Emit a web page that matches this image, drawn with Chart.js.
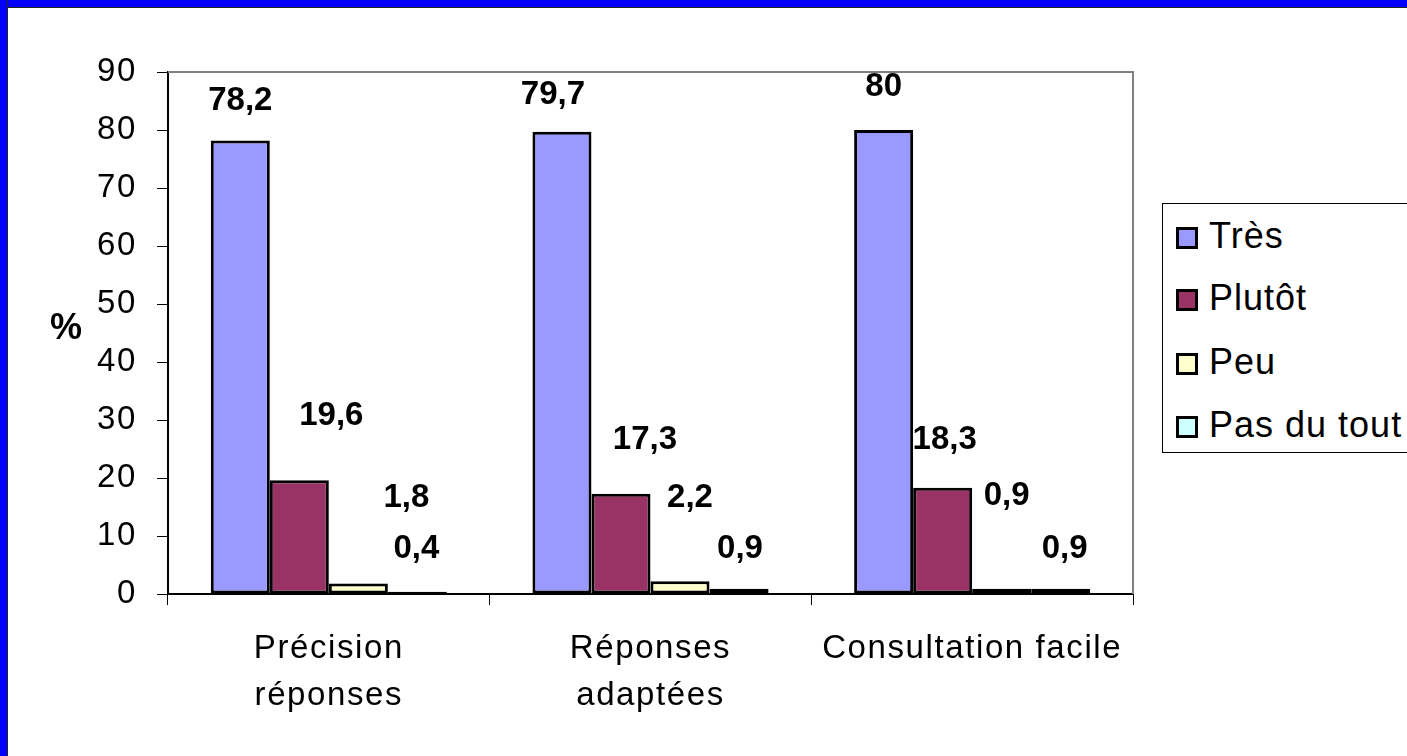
<!DOCTYPE html>
<html>
<head>
<meta charset="utf-8">
<script src="https://cdn.jsdelivr.net/npm/chart.js@4/dist/chart.umd.min.js"></script>
<style>
    html, body { margin: 0; padding: 0; background: #ffffff; overflow: hidden; }
    #frame { position: absolute; left: 0; top: 0; width: 1407px; height: 756px; }
    #topBar { position: absolute; left: 0; top: 0; width: 1407px; height: 7px; background: #0000FF; border-bottom: 1px solid #222; }
    #leftBar { position: absolute; left: 0; top: 0; width: 7px; height: 756px; background: #0000FF; border-right: 1px solid #222; }
    #chartBox { position: absolute; left: 0; top: 0; width: 1407px; height: 756px; }
    #legend {
        position: absolute; left: 1162px; top: 203px; width: 270px; height: 250px;
        border: 1px solid #000; background: #fff; box-sizing: border-box;
        font-family: 'Liberation Sans', Arial, sans-serif; font-size: 36px; letter-spacing: 1px; color: #000;
    }
    .item { position: absolute; left: 13px; height: 40px; line-height: 40px; white-space: nowrap; }
    .swatch { display: inline-block; box-sizing: border-box; width: 22px; height: 22px; border: 3px solid #000; margin-right: 11px; vertical-align: -1px; }
    #pct { position: absolute; left: 50px; top: 306px; font: bold 36px 'Liberation Sans', Arial, sans-serif; }
</style>
</head>
<body>
<div id="frame">
    <div id="chartBox"><canvas id="surveyChart" width="1407" height="756"></canvas></div>
    <div id="pct">%</div>
    <div id="legend"></div>
    <div id="topBar"></div>
    <div id="leftBar"></div>
</div>
<script>
const categories = [['Précision', 'réponses'], ['Réponses', 'adaptées'], 'Consultation facile'];
const seriesNames = ['Très', 'Plutôt', 'Peu', 'Pas du tout'];
const tresValues = [78.2, 79.7, 80];
const plutotValues = [19.6, 17.3, 18.3];
const peuValues = [1.8, 2.2, 0.9];
const pasDuToutValues = [0.4, 0.9, 0.9];
const yTicks = [0, 10, 20, 30, 40, 50, 60, 70, 80, 90];

const seriesColors = ['#9999FF', '#993366', '#FFFFCC', '#CCFFFF'];
// where Excel put each value label, relative to the bar top (layout only)
const labelNudge = [
    [[0, -40], [-9, -37], [0, -43]],
    [[32, -64], [24, -54], [2, -48]],
    [[48, -86], [10, -83], [5, -93]],
    [[-1, -43], [1, -40], [4, -40]]
];

const FONT = "'Liberation Sans', Arial, sans-serif";

// Excel spreads the axis text a bit wider than the canvas does
const spacing = {
    id: 'spacing',
    beforeDraw(chart) { chart.ctx.letterSpacing = '1.6px'; }
};

const valueLabels = {
    id: 'valueLabels',
    afterDatasetsDraw(chart) {
        const ctx = chart.ctx;
        ctx.save();
        ctx.letterSpacing = '0px';
        ctx.font = 'bold 33px ' + FONT;
        ctx.fillStyle = '#000';
        ctx.textAlign = 'center';
        ctx.textBaseline = 'middle';
        chart.data.datasets.forEach((ds, i) => {
            chart.getDatasetMeta(i).data.forEach((bar, j) => {
                const n = labelNudge[i][j];
                const txt = String(ds.data[j]).replace('.', ',');
                ctx.fillText(txt, bar.x + n[0], bar.y + n[1]);
            });
        });
        ctx.restore();
    }
};

const plotFrame = {
    id: 'plotFrame',
    beforeDatasetsDraw(chart) {
        const a = chart.chartArea;
        const ctx = chart.ctx;
        ctx.save();
        ctx.strokeStyle = '#808080';
        ctx.lineWidth = 2;
        ctx.beginPath();
        ctx.moveTo(a.left, a.top);
        ctx.lineTo(a.right, a.top);
        ctx.lineTo(a.right, a.bottom);
        ctx.stroke();
        ctx.restore();
    }
};

const allValues = [tresValues, plutotValues, peuValues, pasDuToutValues];

new Chart(document.getElementById('surveyChart'), {
    type: 'bar',
    data: {
        labels: categories,
        datasets: seriesNames.map((name, i) => ({
            label: name,
            data: allValues[i],
            backgroundColor: seriesColors[i],
            borderColor: '#000',
            borderWidth: 3,
            borderSkipped: false,
            categoryPercentage: 0.734,
            barPercentage: 1
        }))
    },
    options: {
        responsive: false,
        animation: false,
        layout: { padding: { left: 0, right: 274, top: 72, bottom: 0 } },
        plugins: { legend: { display: false }, tooltip: { enabled: false } },
        scales: {
            x: {
                offset: true,
                afterFit(scale) { scale.height = 162; },
                grid: { offset: true, drawOnChartArea: false, tickLength: 11, color: '#000', lineWidth: 1 },
                border: { color: '#000', width: 2 },
                ticks: { color: '#000', padding: 20, font: { family: FONT, size: 33, lineHeight: 1.43 }, maxRotation: 0, autoSkip: false }
            },
            y: {
                min: 0,
                max: 90,
                afterFit(scale) { scale.width = 168; },
                afterBuildTicks(scale) { scale.ticks = yTicks.map(v => ({ value: v })); },
                grid: { drawOnChartArea: false, tickLength: 11, color: '#000', lineWidth: 1 },
                border: { color: '#000', width: 2 },
                ticks: { color: '#000', padding: 20, font: { family: FONT, size: 33 } }
            }
        }
    },
    plugins: [spacing, plotFrame, valueLabels]
});

// legend as real text
const legendBox = document.getElementById('legend');
const rowTops = [12, 74, 138, 201];
seriesNames.forEach((name, i) => {
    const row = document.createElement('div');
    row.className = 'item';
    row.style.top = rowTops[i] + 'px';
    row.innerHTML = '<span class="swatch" style="background:' + seriesColors[i] + '"></span>' + name;
    legendBox.appendChild(row);
});
</script>
</body>
</html>
